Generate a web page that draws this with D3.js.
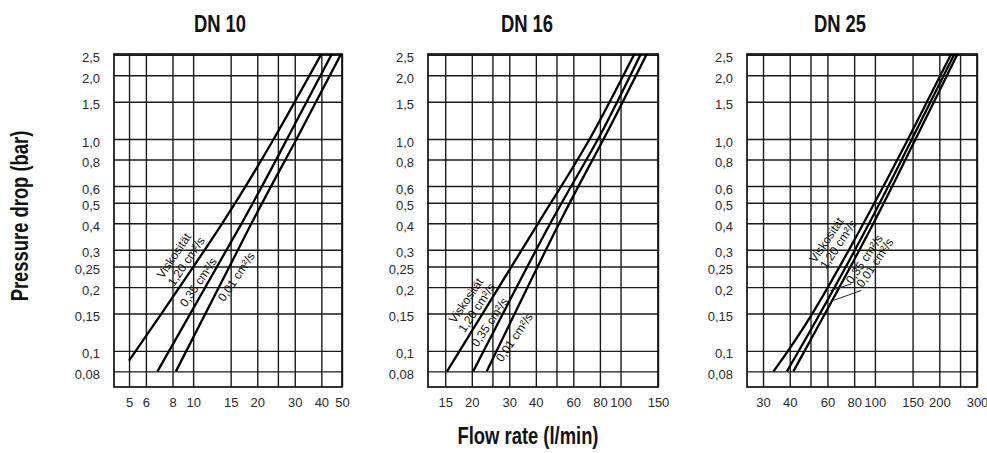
<!DOCTYPE html>
<meta charset="utf-8">
<title>Pressure drop vs flow rate</title>
<style>
body { margin: 0; background: #fff; }
.grid line { stroke: #1b1b1b; stroke-width: 1.4px; }
.grid text { font: 13px "Liberation Sans", Arial, sans-serif; fill: #2a2a2a; }
.frame { fill: none; stroke: #111; stroke-width: 1.7px; }
.curve { fill: none; stroke: #000; stroke-width: 2.3px; }
.title { font-family: "Liberation Sans", Arial, sans-serif; font-weight: bold; font-size: 23px; fill: #111; }
.note { font: 12px "Liberation Sans", Arial, sans-serif; fill: #111; }
.leader { stroke: #222; stroke-width: 1px; }
</style>
<svg width="987" height="453"></svg>
<script src="https://d3js.org/d3.v7.min.js"></script>
<script>

// pressure drop axis, shared by all three charts
var yTicks = [0.08, 0.1, 0.15, 0.2, 0.25, 0.3, 0.4, 0.5, 0.6, 0.8, 1.0, 1.5, 2.0, 2.5];
var yTickLabels = ["0,08", "0,1", "0,15", "0,2", "0,25", "0,3", "0,4", "0,5", "0,6", "0,8", "1,0", "1,5", "2,0", "2,5"];

// flow rate grid lines and the ones that carry a label
var dn10Grid = [5, 6, 8, 10, 15, 20, 25, 30, 40, 50];
var dn10Labels = [5, 6, 8, 10, 15, 20, 30, 40, 50];
var dn16Grid = [15, 20, 25, 30, 40, 50, 60, 80, 100, 150];
var dn16Labels = [15, 20, 30, 40, 60, 80, 100, 150];
var dn25Grid = [30, 40, 50, 60, 80, 100, 150, 200, 250, 300];
var dn25Labels = [30, 40, 60, 80, 100, 150, 200, 300];

// [flow l/min, pressure bar]
var dn10Visc120 = [[5.0,0.09],[7.1,0.15],[13.7,0.4],[23.9,1.0],[40.1,2.53]];
var dn10Visc035 = [[6.8,0.08],[16.9,0.4],[27.6,1.0],[44.9,2.53]];
var dn10Visc001 = [[8.3,0.08],[18.8,0.4],[30.6,1.0],[49.6,2.53]];

var dn16Visc120 = [[15.3,0.08],[41.0,0.4],[71.6,1.0],[117,2.556]];
var dn16Visc035 = [[20.3,0.08],[46.8,0.4],[78.4,1.0],[125.4,2.556]];
var dn16Visc001 = [[23.5,0.08],[51.5,0.4],[83.3,1.0],[133.8,2.556]];

var dn25Visc120 = [[33.6,0.08],[51.0,0.15],[88.5,0.4],[143,1.0],[229,2.556]];
var dn25Visc035 = [[38.8,0.08],[55.4,0.15],[94,0.4],[149,1.0],[237,2.556]];
var dn25Visc001 = [[41.6,0.08],[58.5,0.15],[98.5,0.4],[155,1.0],[245,2.556]];

// curve captions: which curve, at what pressure, and how far off the line (px, + = upper left)
var dn10Notes = [
  {text: "Viskosität", curve: 0, p: 0.246, off: 22},
  {text: "1,20 cm²/s", curve: 0, p: 0.251, off: 8.5},
  {text: "0,35 cm²/s", curve: 1, p: 0.200, off: 8.5},
  {text: "0,01 cm²/s", curve: 2, p: 0.239, off: -11}
];
var dn16Notes = [
  {text: "Viskosität", curve: 0, p: 0.152, off: 21},
  {text: "1,20 cm²/s", curve: 0, p: 0.152, off: 8},
  {text: "0,35 cm²/s", curve: 1, p: 0.130, off: 8},
  {text: "0,01 cm²/s", curve: 2, p: 0.123, off: -10}
];
var dn25Notes = [
  {text: "Viskosität", curve: 0, p: 0.288, off: 24},
  {text: "1,20 cm²/s", curve: 0, p: 0.297, off: 11.5},
  {text: "0,35 cm²/s", curve: 2, p: 0.286, off: -9},
  {text: "0,01 cm²/s", curve: 2, p: 0.294, off: -20}
];
var dn25Leaders = [
  [[77.5,0.207],[61.8,0.192]],
  [[86.5,0.193],[64.0,0.173]]
];

var panels = [
  {title: "DN 10", titleX: 220, left: 114, right: 342, xDomain: [4.25, 50], grid: dn10Grid, labels: dn10Labels,
   curves: [dn10Visc120, dn10Visc035, dn10Visc001], notes: dn10Notes, leaders: []},
  {title: "DN 16", titleX: 527, left: 428, right: 658, xDomain: [12.45, 150], grid: dn16Grid, labels: dn16Labels,
   curves: [dn16Visc120, dn16Visc035, dn16Visc001], notes: dn16Notes, leaders: []},
  {title: "DN 25", titleX: 840, left: 747, right: 977, xDomain: [25.25, 300], grid: dn25Grid, labels: dn25Labels,
   curves: [dn25Visc120, dn25Visc035, dn25Visc001], notes: dn25Notes, leaders: dn25Leaders}
];

var svg = d3.select("svg");
svg.append("rect").attr("width", 987).attr("height", 453).attr("fill", "#fff");

var plotTop = 54, plotBottom = 387;
var h = plotBottom - plotTop;
var y = d3.scaleLog().domain([0.0675, 2.52]).range([h, 0]);
var noteAngle = -56;

// condensed bold look: squeeze the bold face horizontally
function squeezed(sel, cx, cy, rot) {
  sel.attr("text-anchor", "middle")
    .attr("transform", "translate(" + cx + "," + cy + ")" + (rot ? " rotate(" + rot + ")" : "") + " scale(0.8,1)");
}

// flow on a curve at pressure p (log-log interpolation between readings)
function flowAt(curve, p) {
  for (var k = 1; k < curve.length; k++) {
    if (p <= curve[k][1] || k == curve.length - 1) {
      var a = curve[k - 1], b = curve[k];
      var t = (Math.log(p) - Math.log(a[1])) / (Math.log(b[1]) - Math.log(a[1]));
      return Math.exp(Math.log(a[0]) + t * (Math.log(b[0]) - Math.log(a[0])));
    }
  }
}

panels.forEach(function(p, i) {
  var w = p.right - p.left;
  var x = d3.scaleLog().domain(p.xDomain).range([0, w]);
  var g = svg.append("g").attr("transform", "translate(" + p.left + "," + plotTop + ")");

  g.append("g").attr("class", "grid")
    .call(d3.axisLeft(y).tickValues(yTicks).tickSize(-w).tickPadding(14)
      .tickFormat(function(d, k) { return yTickLabels[k]; }))
    .call(function(s) { s.select(".domain").remove(); })
    .selectAll("text").attr("dy", "0.55em");

  g.append("g").attr("class", "grid")
    .attr("transform", "translate(0," + h + ")")
    .call(d3.axisBottom(x).tickValues(p.grid).tickSize(-h).tickPadding(11)
      .tickFormat(function(d) { return p.labels.indexOf(d) >= 0 ? d : ""; }))
    .call(function(s) { s.select(".domain").remove(); });

  g.append("rect").attr("class", "frame").attr("width", w).attr("height", h);

  g.append("clipPath").attr("id", "clip" + i)
    .append("rect").attr("width", w).attr("height", h);

  var line = d3.line()
    .x(function(d) { return x(d[0]); })
    .y(function(d) { return y(d[1]); })
    .curve(d3.curveNatural);

  g.append("g").attr("clip-path", "url(#clip" + i + ")")
    .selectAll("path").data(p.curves).enter().append("path")
    .attr("class", "curve")
    .attr("d", line);

  g.selectAll(".leader").data(p.leaders).enter().append("line")
    .attr("class", "leader")
    .attr("x1", function(d) { return x(d[0][0]); })
    .attr("y1", function(d) { return y(d[0][1]); })
    .attr("x2", function(d) { return x(d[1][0]); })
    .attr("y2", function(d) { return y(d[1][1]); });

  var a = noteAngle * Math.PI / 180;
  g.selectAll(".note").data(p.notes).enter().append("text")
    .attr("class", "note")
    .attr("text-anchor", "middle")
    .attr("dominant-baseline", "central")
    .attr("transform", function(d) {
      var cx = x(flowAt(p.curves[d.curve], d.p)) + d.off * Math.sin(a);
      var cy = y(d.p) - d.off * Math.cos(a);
      return "translate(" + cx + "," + cy + ") rotate(" + noteAngle + ")";
    })
    .text(function(d) { return d.text; });

  svg.append("text").attr("class", "title")
    .call(squeezed, p.titleX, 32)
    .text(p.title);
});

svg.append("text").attr("class", "title")
  .call(squeezed, 27.5, 216, -90)
  .text("Pressure drop (bar)");

svg.append("text").attr("class", "title")
  .call(squeezed, 528, 444)
  .text("Flow rate (l/min)");

</script>
